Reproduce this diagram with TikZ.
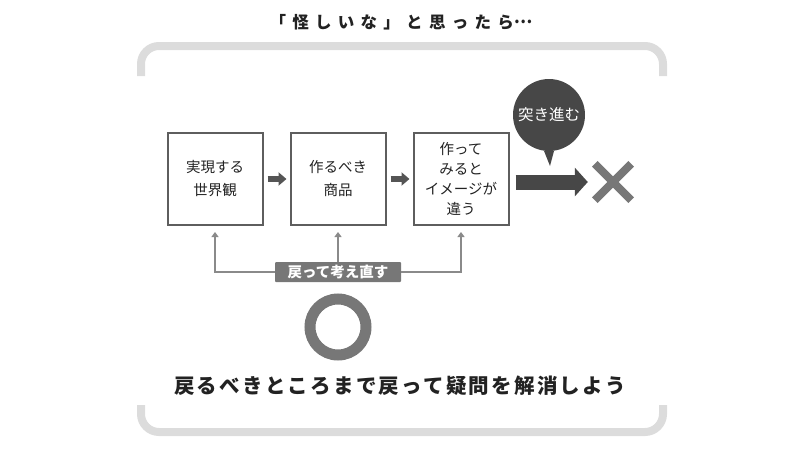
\documentclass[tikz,border=0pt]{standalone}
\usepackage{fontspec}
\setmainfont{Noto Sans CJK JP}
\newfontfamily\titlefont[LetterSpace=38]{Noto Sans CJK JP}
\newfontfamily\leadfont[LetterSpace=11]{Noto Sans CJK JP}
\usetikzlibrary{
    arrows.meta,   % For modern arrow tips
    positioning    % For relative placement of nodes (e.g., right=of)
}
\definecolor{framegray}{HTML}{DCDCDC}
\definecolor{boxgray}{HTML}{5E5E5E}
\definecolor{stepgray}{HTML}{555555}
\definecolor{linegray}{HTML}{8A8A8A}
\definecolor{markgray}{HTML}{777777}
\definecolor{darkgray}{HTML}{474747}
\definecolor{inkgray}{HTML}{222222}

\begin{document}
\begin{tikzpicture}[
    x=1pt, y=-1pt, % one unit = one pixel of the layout, y downwards
    node distance=26pt,
    box_style/.style={draw=boxgray, line width=2pt, minimum width=95pt, minimum height=92pt,
        inner sep=2pt, align=center, text=inkgray, font=\fontsize{14.5}{23}\selectfont},
    step_arrow/.style={draw=stepgray, line width=5.5pt, -{Triangle[length=8pt,width=13pt]},
        shorten <=4pt, shorten >=3pt},
    back_arrow/.style={draw=linegray, line width=2pt, -{Triangle[length=5pt,width=7pt]},
        shorten >=6pt},
    frame_style/.style={draw=framegray, line width=8pt, rounded corners=18pt}
]
    % Fix the canvas to the layout size
    \useasboundingbox (0,0) rectangle (790,450);

    % Title
    \node[text=inkgray, font=\titlefont\bfseries\fontsize{16.5}{18}\selectfont] (title) at (401,22)
        {「怪しいな」と思ったら\raisebox{0.3em}{…}};

    % Upper and lower brackets of the frame
    \draw[frame_style] (141,76) -- (141,46) -- (663,46) -- (663,76);
    \draw[frame_style] (141,405) -- (141,432) -- (663,432) -- (663,405);

    % The three steps
    \node[box_style] (world) at (215,179) {実現する\\世界観};
    \node[box_style, right=of world] (goods) {作るべき\\商品};
    \node[box_style, right=of goods, font=\fontsize{14.5}{20}\selectfont] (gap)
        {作って\\みると\\イメージが\\違う};

    \draw[step_arrow] (world) -- (goods);
    \draw[step_arrow] (goods) -- (gap);

    % Going back
    \coordinate (back_level) at (0,272);
    \node[fill=markgray, text=white, rounded corners=1pt, minimum width=126pt, minimum height=20pt,
        inner sep=0pt, font=\bfseries\fontsize{14.5}{16}\selectfont] (redo) at (goods |- back_level)
        {戻って考え直す};
    \draw[back_arrow] (redo.west) -| (world.south);
    \draw[back_arrow] (redo.north) -- (goods.south);
    \draw[back_arrow] (redo.east) -| (gap.south);

    % Pushing on leads to the cross
    \node[minimum size=36pt, inner sep=0pt] (cross) at (613,182) {};
    \draw[markgray, line width=8pt] (cross.north west) -- (cross.south east);
    \draw[markgray, line width=8pt] (cross.north east) -- (cross.south west);
    \draw[darkgray, line width=15pt, -{Triangle[length=13pt,width=28pt]},
        shorten <=6pt, shorten >=7pt] (gap.east |- cross) -- (cross.west);

    % Speech bubble
    \node[circle, fill=darkgray, minimum size=72pt, inner sep=0pt, text=white,
        font=\fontsize{15.5}{17}\selectfont] (push) at (549,115) {突き進む};
    \coordinate (push_tip) at (550,166);
    \fill[darkgray] (push.262) -- (push.278) -- (push_tip) -- cycle;

    % The circle mark and the lesson
    \node[circle, draw=markgray, line width=11pt, minimum size=56pt, inner sep=0pt] (ring)
        at (goods |- 0,327) {};
    \node[text=inkgray, font=\leadfont\bfseries\fontsize{20.5}{22}\selectfont] (lesson) at (400,386)
        {戻るべきところまで戻って疑問を解消しよう};
\end{tikzpicture}
\end{document}
